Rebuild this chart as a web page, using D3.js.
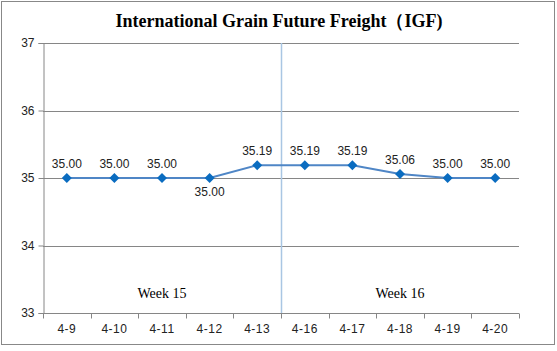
<!DOCTYPE html>
<html>
<head>
<meta charset="utf-8">
<script src="https://cdn.jsdelivr.net/npm/d3@7"></script>
<style>
  body { margin: 0; background: #fff; }
  svg { display: block; }
</style>
</head>
<body>
<div id="chart"></div>
<script>
// chart data
const dates = ["4-9", "4-10", "4-11", "4-12", "4-13", "4-16", "4-17", "4-18", "4-19", "4-20"];
const freight = [35.00, 35.00, 35.00, 35.00, 35.19, 35.19, 35.19, 35.06, 35.00, 35.00];
const yTicks = [33, 34, 35, 36, 37];
const weeks = [
  { label: "Week 15", from: "4-9", to: "4-13" },
  { label: "Week 16", from: "4-16", to: "4-20" }
];

const W = 557, H = 351;
const margin = { top: 43, right: 38, bottom: 38, left: 43 };
const width = W - margin.left - margin.right;
const height = H - margin.top - margin.bottom;

const svg = d3.select("#chart").append("svg")
  .attr("width", W)
  .attr("height", H);

// outer frame
svg.append("rect")
  .attr("x", 1.5).attr("y", 1.5)
  .attr("width", 553).attr("height", 343)
  .attr("fill", "#fff")
  .attr("stroke", "#888");

svg.append("text")
  .attr("x", 279).attr("y", 27)
  .attr("text-anchor", "middle")
  .style("font-family", "'Liberation Serif', 'Times New Roman', serif")
  .style("font-weight", "bold")
  .style("font-size", "18px")
  .attr("fill", "#000")
  .text("International Grain Future Freight（IGF)");

const g = svg.append("g")
  .attr("transform", "translate(" + margin.left + "," + margin.top + ")");

const x = d3.scaleBand().domain(dates).range([0, width]);
const y = d3.scaleLinear().domain([33, 37]).range([height, 0]);

// gridlines
g.selectAll(".grid")
  .data(yTicks.filter(d => d > 33))
  .enter().append("line")
  .attr("x1", 0).attr("x2", width)
  .attr("y1", d => Math.round(y(d)) + 0.5)
  .attr("y2", d => Math.round(y(d)) + 0.5)
  .attr("stroke", "#868686");

// y axis
const yAxis = g.append("g")
  .attr("transform", "translate(0.5,0)")
  .call(d3.axisLeft(y).tickValues(yTicks).tickSize(5).tickPadding(4).tickFormat(d3.format("d")));
yAxis.select(".domain").attr("stroke", "#868686");
yAxis.selectAll(".tick line").attr("stroke", "#868686");
yAxis.selectAll("text")
  .style("font-family", "'Liberation Sans', Arial, sans-serif")
  .style("font-size", "12px")
  .attr("fill", "#222");

// x axis with ticks at band boundaries
const xAxis = g.append("g")
  .attr("transform", "translate(0," + (Math.round(height) + 0.5) + ")");
xAxis.append("line")
  .attr("x1", 0).attr("x2", width)
  .attr("stroke", "#868686");
xAxis.selectAll(".bt")
  .data(dates.concat(["end"]))
  .enter().append("line")
  .attr("x1", (d, i) => Math.round(i * x.step()) + 0.5)
  .attr("x2", (d, i) => Math.round(i * x.step()) + 0.5)
  .attr("y1", 0).attr("y2", 5)
  .attr("stroke", "#868686");
xAxis.selectAll(".lbl")
  .data(dates)
  .enter().append("text")
  .attr("x", d => x(d) + x.bandwidth() / 2)
  .attr("y", 19)
  .attr("text-anchor", "middle")
  .style("font-family", "'Liberation Sans', Arial, sans-serif")
  .style("font-size", "12px")
  .style("letter-spacing", "0.5px")
  .attr("fill", "#222")
  .text(d => d);

// week separator
const sepX = Math.round(x("4-16")) + 0.5;
g.append("line")
  .attr("x1", sepX).attr("x2", sepX)
  .attr("y1", 0).attr("y2", height)
  .attr("stroke", "#a9c6e3")
  .attr("stroke-width", 1.5);

// week labels
g.selectAll(".week")
  .data(weeks)
  .enter().append("text")
  .attr("x", d => (x(d.from) + x(d.to) + x.bandwidth()) / 2)
  .attr("y", height - 15)
  .attr("text-anchor", "middle")
  .style("font-family", "'Liberation Serif', 'Times New Roman', serif")
  .style("font-size", "14px")
  .attr("fill", "#000")
  .text(d => d.label);

// line
const cx = d => x(d) + x.bandwidth() / 2;
g.append("path")
  .datum(freight)
  .attr("fill", "none")
  .attr("stroke", "#4f86c6")
  .attr("stroke-width", 2)
  .attr("d", d3.line().x((d, i) => cx(dates[i])).y(d => y(d)));

// markers
g.selectAll(".pt")
  .data(freight)
  .enter().append("path")
  .attr("transform", (d, i) => "translate(" + cx(dates[i]) + "," + y(d) + ")")
  .attr("d", "M0,-5L5,0L0,5L-5,0Z")
  .attr("fill", "#0a6cc0");

// value labels
g.selectAll(".val")
  .data(freight)
  .enter().append("text")
  .attr("x", (d, i) => cx(dates[i]))
  .attr("y", (d, i) => dates[i] === "4-12" ? y(d) + 18 : y(d) - 10)
  .attr("text-anchor", "middle")
  .style("font-family", "'Liberation Sans', Arial, sans-serif")
  .style("font-size", "12px")
  .attr("fill", "#222")
  .text(d => d.toFixed(2));
</script>
</body>
</html>
